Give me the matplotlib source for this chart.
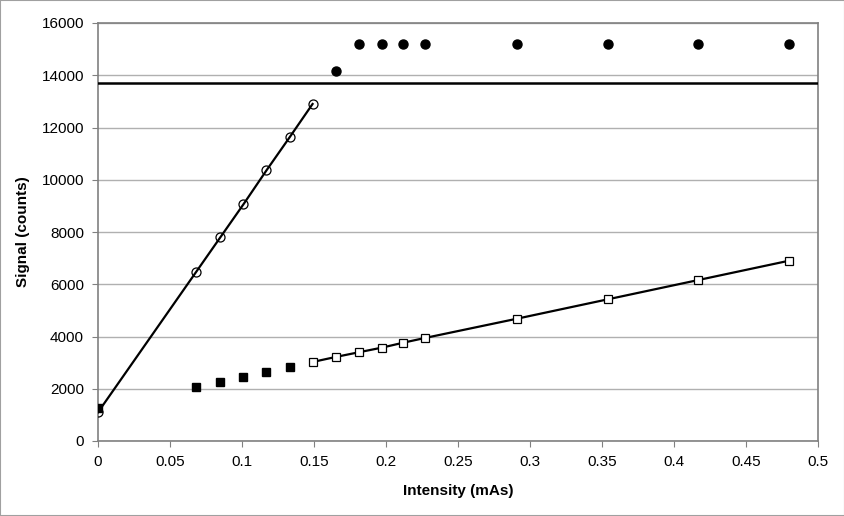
import matplotlib.pyplot as plt
from matplotlib.patches import Rectangle

plt.rcParams['font.family'] = ['Liberation Sans', 'DejaVu Sans']

# open circles (linear part, high signal)
x_circ = [0, 0.068, 0.085, 0.101, 0.117, 0.133, 0.149]
y_circ = [1100, 6460, 7800, 9060, 10360, 11620, 12900]

# filled circles (saturated)
x_sat = [0.165, 0.181, 0.197, 0.212, 0.227, 0.291, 0.354, 0.417, 0.480]
y_sat = [14175, 15190, 15190, 15190, 15190, 15190, 15190, 15190, 15190]

# filled squares (low signal, below linear range)
x_sq = [0, 0.068, 0.085, 0.101, 0.117, 0.133]
y_sq = [1250, 2055, 2258, 2460, 2640, 2830]

# open squares (low signal, linear)
x_osq = [0.149, 0.165, 0.181, 0.197, 0.212, 0.227, 0.291, 0.354, 0.417, 0.480]
y_osq = [3024, 3216, 3395, 3572, 3763, 3943, 4682, 5423, 6163, 6902]

sat_level = 13700

fig = plt.figure(figsize=(8.45, 5.16), dpi=100)
ax = fig.add_axes([98 / 845, 75 / 516, 720 / 845, 418 / 516])

ax.axhline(sat_level, color='black', lw=1.8, zorder=3)
ax.plot(x_circ, y_circ, color='black', lw=1.6, marker='o', ms=6.5,
        mfc='none', mec='black', mew=0.9, zorder=4)
ax.plot(x_sat, y_sat, ls='none', marker='o', ms=6.5, color='black', zorder=4)
ax.plot(x_sq, y_sq, ls='none', marker='s', ms=6, color='black', zorder=5)
ax.plot(x_osq, y_osq, color='black', lw=1.6, marker='s', ms=6,
        mfc='white', mec='black', mew=0.9, zorder=4)

ax.set_xlim(0, 0.5)
ax.set_ylim(0, 16000)
ax.set_xticks([0, 0.05, 0.1, 0.15, 0.2, 0.25, 0.3, 0.35, 0.4, 0.45, 0.5])
ax.set_xticklabels(['0', '0.05', '0.1', '0.15', '0.2', '0.25', '0.3',
                    '0.35', '0.4', '0.45', '0.5'])
ax.set_yticks(range(0, 16001, 2000))
ax.grid(axis='y', color='#b0b0b0', lw=1)
ax.set_axisbelow(True)
for s in ax.spines.values():
    s.set_color('#808080')
    s.set_linewidth(1.2)
ax.tick_params(direction='out', length=4, color='#808080', labelsize=11,
               pad=6)
ax.set_xlabel('Intensity (mAs)', fontsize=11, fontweight='bold', labelpad=11)
ax.set_ylabel('Signal (counts)', fontsize=11, fontweight='bold', labelpad=8)

fig.patches.append(Rectangle((0, 0), 1, 1, transform=fig.transFigure,
                             fill=False, edgecolor='#a0a0a0', lw=1.5))

fig.savefig('out.png', dpi=100)
